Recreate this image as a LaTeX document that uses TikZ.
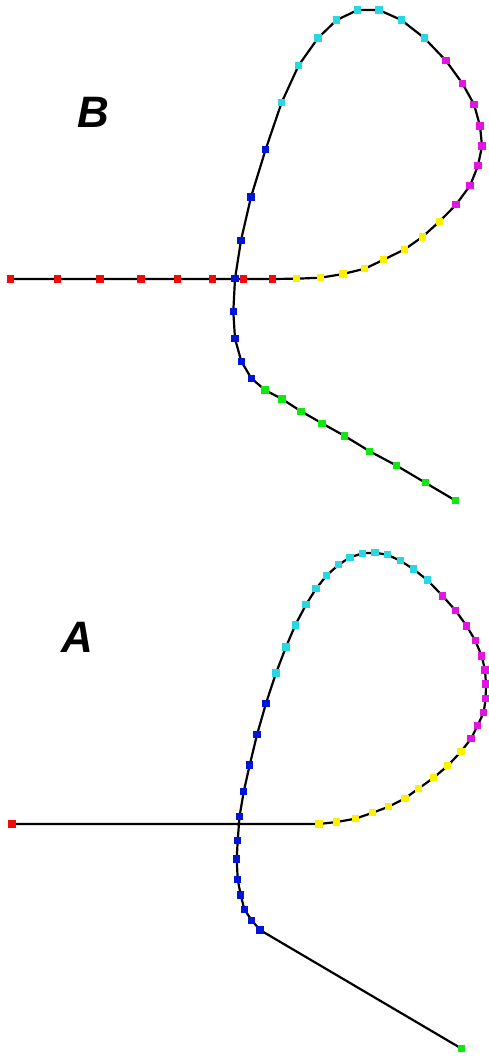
\documentclass[tikz,border=0pt]{standalone}
\usepackage{fontspec}
\newfontfamily\lblfont{Liberation Sans}
\usepackage{xcolor}
\definecolor{ptred}{RGB}{240,10,10}
\definecolor{ptyellow}{RGB}{250,240,0}
\definecolor{ptmagenta}{RGB}{225,20,225}
\definecolor{ptcyan}{RGB}{40,215,225}
\definecolor{ptblue}{RGB}{0,20,215}
\definecolor{ptgreen}{RGB}{20,230,20}
\usepackage{tikz}
\usetikzlibrary{backgrounds}
\tikzset{
  pt/.style={fill=#1, draw=none, minimum size=7.5pt, inner sep=0pt},
  curve/.style={line width=2.2pt, line join=round},
  panel/.style={font=\lblfont\bfseries\itshape\fontsize{44}{44}\selectfont}
}

\begin{document}
\begin{tikzpicture}[x=1pt, y=-1pt]
  \useasboundingbox (0,0) rectangle (488,1056);
  % panel B
  \foreach \x/\y/\c [count=\i] in {10.7/279/ptred, 57.3/279/ptred, 100/279/ptred, 141/279/ptred,
      177.7/279/ptred, 212.3/279/ptred, 243.3/279/ptred, 272.3/279/ptred,
      296.7/278.7/ptyellow, 320.7/277.7/ptyellow, 343/274/ptyellow, 364.7/268.7/ptyellow,
      383.7/259.7/ptyellow, 404.7/249.3/ptyellow, 422.3/237/ptyellow, 439.7/221.3/ptyellow,
      456/204.7/ptmagenta, 470/185.7/ptmagenta, 478/165.7/ptmagenta, 482/146/ptmagenta,
      480/126/ptmagenta, 474/104.3/ptmagenta, 462.3/83.3/ptmagenta, 446/60.7/ptmagenta,
      424.3/38/ptcyan, 401.3/20/ptcyan, 379/10/ptcyan, 357.7/10/ptcyan,
      336.7/20/ptcyan, 318/38/ptcyan, 298.7/65.3/ptcyan, 281.7/102.3/ptcyan,
      265.7/149.3/ptblue, 251/197/ptblue, 241/240.3/ptblue, 235/278.7/ptblue,
      233.3/311.5/ptblue, 235/338.7/ptblue, 241.3/361.3/ptblue, 251.3/378.3/ptblue,
      265/390/ptgreen, 282/399/ptgreen, 301/411.3/ptgreen, 322/423.3/ptgreen, 344.7/436/ptgreen,
      369.7/451.3/ptgreen, 396.7/465.7/ptgreen, 425.3/482.7/ptgreen, 455.7/500.7/ptgreen}
    \node[pt=\c] (b\i) at (\x,\y) {};
  \begin{scope}[on background layer]
    \draw[curve] (b1.center) \foreach \i in {2,...,49} { -- (b\i.center) };
  \end{scope}
  \node[panel] (labB) at (93,112) {B};

  % panel A
  \foreach \x/\y/\c [count=\i] in {12/824/ptred,
      319/824/ptyellow, 336.7/822/ptyellow, 355.3/818.7/ptyellow, 372.7/812.7/ptyellow,
      388.7/806.7/ptyellow, 405/798.3/ptyellow, 418.3/788.7/ptyellow, 433.7/777.7/ptyellow,
      447.7/765.7/ptyellow, 461/751.7/ptyellow,
      471/738.7/ptmagenta, 477.7/725.3/ptmagenta, 483.7/712.3/ptmagenta, 485.7/698.3/ptmagenta,
      486/684/ptmagenta, 485/670/ptmagenta, 481.7/656/ptmagenta, 475.3/640.7/ptmagenta,
      466.7/626/ptmagenta, 455.7/610.7/ptmagenta, 442.7/596/ptmagenta,
      427.3/580/ptcyan, 413.3/569/ptcyan, 400.3/560.7/ptcyan, 387.3/554.7/ptcyan,
      375/552.7/ptcyan, 362.7/553.3/ptcyan, 350/557.3/ptcyan, 338.7/564.7/ptcyan,
      326.7/575.3/ptcyan, 316/588.7/ptcyan, 306/604.7/ptcyan, 295.3/625/ptcyan,
      286/647/ptcyan, 276/673/ptcyan,
      266/703.3/ptblue, 257/734.7/ptblue, 249.7/765/ptblue, 243.7/791.7/ptblue,
      239.5/816.7/ptblue, 237.7/840.5/ptblue, 236.7/859/ptblue, 237.7/879.3/ptblue,
      240.7/895/ptblue, 244.3/909.3/ptblue, 251.7/920.3/ptblue, 260/930/ptblue,
      461.7/1048.7/ptgreen}
    \node[pt=\c] (a\i) at (\x,\y) {};
  \begin{scope}[on background layer]
    \draw[curve] (a1.center) \foreach \i in {2,...,49} { -- (a\i.center) };
  \end{scope}
  \node[panel] (labA) at (77,637) {A};
\end{tikzpicture}
\end{document}
